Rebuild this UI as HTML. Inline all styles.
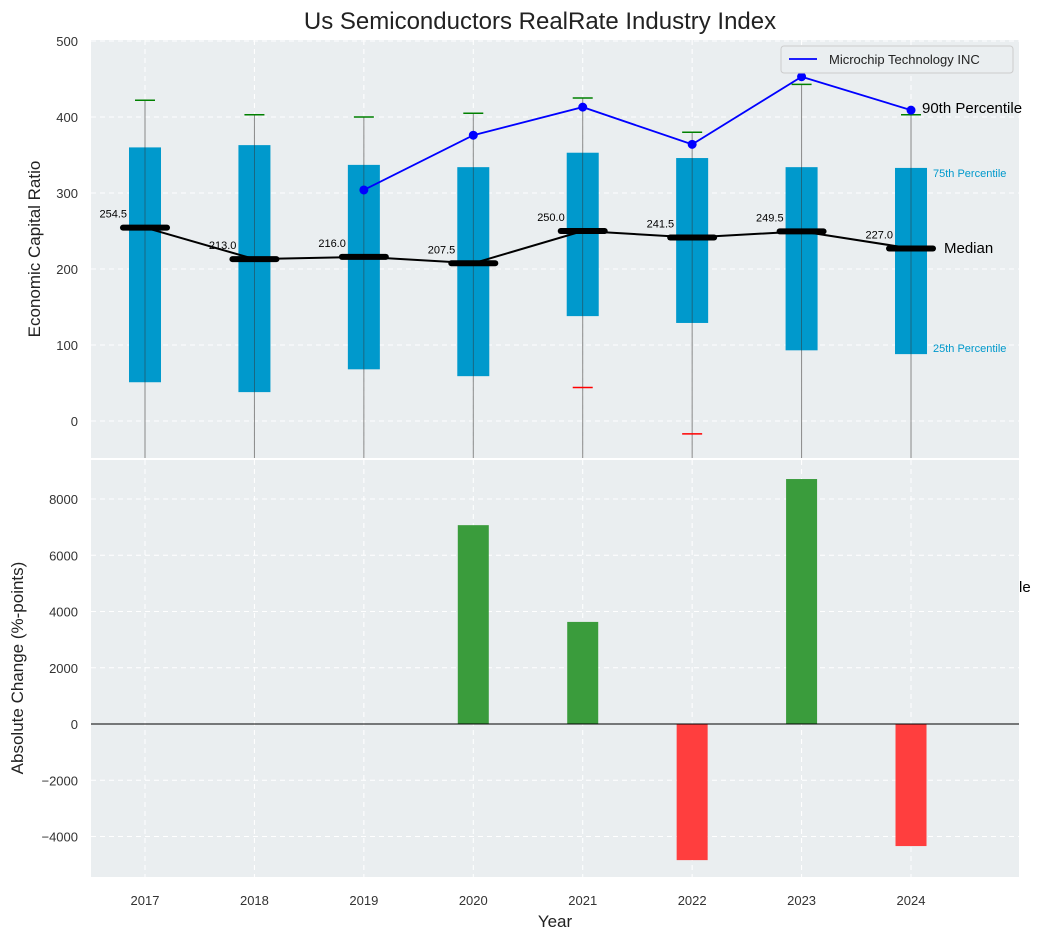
<!DOCTYPE html>
<html><head><meta charset="utf-8">
<style>
body{margin:0;background:#fff;}
svg{font-family:"Liberation Sans",sans-serif;}
</style></head>
<body>
<svg id="c" width="1043" height="940" xmlns="http://www.w3.org/2000/svg"></svg>
<script>
const years=[2017,2018,2019,2020,2021,2022,2023,2024];
const q1=[51,38,68,59,138,129,93,88];
const q3=[360,363,337,334,353,346,334,333];
const medians=[254.5,213.0,216.0,207.5,250.0,241.5,249.5,227.0];
const whiskTop=[422,403,400,405,425,380,443,403];
const whiskLow=[null,null,null,null,44,-17,null,null];
const mchipYears=[2019,2020,2021,2022,2023,2024];
const mchipVals=[304,376,413,364,453,409];
const changeVals=[0,0,0,7070,3630,-4840,8710,-4340];
const topTicks=[0,100,200,300,400,500];
const botTicks=[-4000,-2000,0,2000,4000,6000,8000];

const svg=document.getElementById('c');
const NS='http://www.w3.org/2000/svg';
function mk(tag,attrs,parent){const e=document.createElementNS(NS,tag);for(const k in attrs)e.setAttribute(k,attrs[k]);(parent||svg).appendChild(e);return e;}
const X=y=>145+(y-2017)*109.43;
const YT=v=>421-v*0.76;
const YB=v=>724-v*0.028125;
const L=91,R=1019;

// title
let t=mk('text',{x:540,y:29,'text-anchor':'middle','font-size':24,fill:'#222'});t.textContent='Us Semiconductors RealRate Industry Index';


// panels
let p1=mk('rect',{x:L,y:40,width:R-L,height:418,fill:'#eaeef0'});

let p2=mk('rect',{x:L,y:460,width:R-L,height:417,fill:'#eaeef0'});


// grids
years.forEach(y=>{
 mk('line',{x1:X(y),x2:X(y),y1:40,y2:458,stroke:'#fff','stroke-dasharray':'5,4'});
 mk('line',{x1:X(y),x2:X(y),y1:460,y2:877,stroke:'#fff','stroke-dasharray':'5,4'});
 let tl=mk('text',{x:X(y),y:905,'text-anchor':'middle','font-size':13,fill:'#333'});tl.textContent=y;
 
});
topTicks.forEach(v=>{
 mk('line',{x1:L,x2:R,y1:YT(v),y2:YT(v),stroke:'#fff','stroke-dasharray':'5,4'});
 let tl=mk('text',{x:78,y:YT(v)+5,'text-anchor':'end','font-size':13,fill:'#333'});tl.textContent=v;
 
});
botTicks.forEach(v=>{
 mk('line',{x1:L,x2:R,y1:YB(v),y2:YB(v),stroke:'#fff','stroke-dasharray':'5,4'});
 let tl=mk('text',{x:78,y:YB(v)+5,'text-anchor':'end','font-size':13,fill:'#333'});tl.textContent=(v<0?'\u2212'+(-v):v);
 
});

// boxes
years.forEach((y,i)=>{
 const x=X(y);
 mk('line',{x1:x,x2:x,y1:YT(whiskTop[i]),y2:458,stroke:'#888','stroke-width':1});
 let b=mk('rect',{x:x-16,y:YT(q3[i]),width:32,height:YT(q1[i])-YT(q3[i]),fill:'#0099cc'});
 
 mk('line',{x1:x,x2:x,y1:YT(q3[i]),y2:YT(q1[i]),stroke:'#333','stroke-width':0.8,opacity:0.6});
 mk('line',{x1:x-10,x2:x+10,y1:YT(whiskTop[i]),y2:YT(whiskTop[i]),stroke:'green','stroke-width':1.5});
 if(whiskLow[i]!==null)mk('line',{x1:x-10,x2:x+10,y1:YT(whiskLow[i]),y2:YT(whiskLow[i]),stroke:'red','stroke-width':1.5});
});
// median line
let mp=mk('polyline',{points:years.map((y,i)=>X(y)+','+YT(medians[i])).join(' '),fill:'none',stroke:'#000','stroke-width':2});

years.forEach((y,i)=>{
 mk('line',{x1:X(y)-22,x2:X(y)+22,y1:YT(medians[i]),y2:YT(medians[i]),stroke:'#000','stroke-width':6,'stroke-linecap':'round'});
 let tl=mk('text',{x:X(y)-18,y:YT(medians[i])-10,'text-anchor':'end','font-size':11,fill:'#000'});tl.textContent=medians[i].toFixed(1);
 
});
// microchip
let ml=mk('polyline',{points:mchipYears.map((y,i)=>X(y)+','+YT(mchipVals[i])).join(' '),fill:'none',stroke:'blue','stroke-width':1.8});

mchipYears.forEach((y,i)=>{let c=mk('circle',{cx:X(y),cy:YT(mchipVals[i]),r:4.5,fill:'blue'});
 });

// annotations
function txt(x,y,s,size,fill,name){let e=mk('text',{x:x,y:y,'font-size':size,fill:fill});e.textContent=s;return e;}
txt(922,113,'90th Percentile',15,'#000','label-90th');
txt(933,177,'75th Percentile',11,'#0099cc','label-75th');
txt(933,352,'25th Percentile',11,'#0099cc','label-25th');
txt(944,253,'Median',15,'#000','label-median');
txt(1019,592,'le',15,'#000','clipped-label');

// legend
let lg=mk('g',{});
mk('rect',{x:781,y:46,width:232,height:27,fill:'#eaeef0',stroke:'#ccc',rx:3},lg);
mk('line',{x1:789,x2:817,y1:59,y2:59,stroke:'blue','stroke-width':1.8},lg);
let lt=mk('text',{x:829,y:64,'font-size':13,fill:'#222'},lg);lt.textContent='Microchip Technology INC';

// bars
years.forEach((y,i)=>{
 const v=changeVals[i];if(v===0)return;
 let b=mk('rect',{x:X(y)-15.5,y:Math.min(YB(v),YB(0)),width:31,height:Math.abs(YB(v)-YB(0)),fill:v>0?'#3a9c3c':'#ff3e3e'});
 
});
mk('line',{x1:L,x2:R,y1:YB(0),y2:YB(0),stroke:'#000','stroke-width':1});

// axis titles
let a1=mk('text',{x:40,y:249,'text-anchor':'middle','font-size':17,fill:'#222',transform:'rotate(-90 40 249)'});a1.textContent='Economic Capital Ratio';

let a2=mk('text',{x:23,y:668,'text-anchor':'middle','font-size':17,fill:'#222',transform:'rotate(-90 23 668)'});a2.textContent='Absolute Change (%-points)';

let a3=mk('text',{x:555,y:927,'text-anchor':'middle','font-size':17,fill:'#222'});a3.textContent='Year';

</script>
</body></html>
